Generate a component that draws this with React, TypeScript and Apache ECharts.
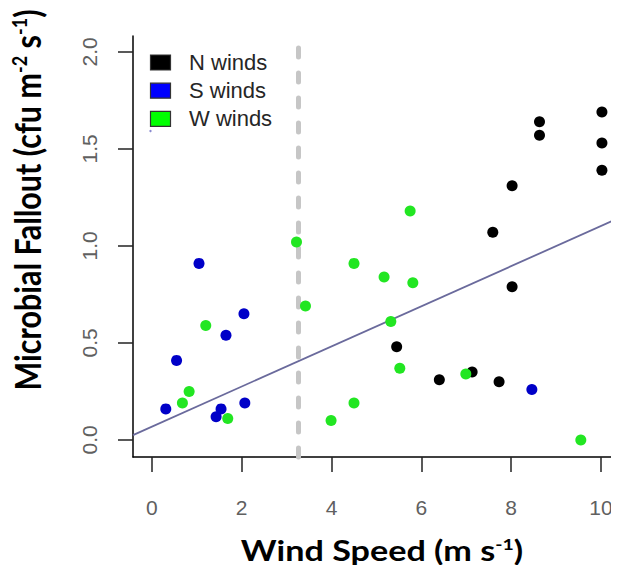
import React, { useEffect, useRef } from "react";
import * as echarts from "echarts";

// N winds
const nX = [5.45, 6.4, 7.13, 7.73, 7.59, 8.02, 8.02, 8.63, 8.63, 10.02, 10.02, 10.02];
const nY = [0.48, 0.31, 0.35, 0.3, 1.07, 1.31, 0.79, 1.64, 1.57, 1.69, 1.53, 1.39];
// S winds
const sX = [1.05, 2.05, 1.65, 0.55, 0.31, 1.54, 1.43, 2.07, 8.46];
const sY = [0.91, 0.65, 0.54, 0.41, 0.16, 0.16, 0.12, 0.19, 0.26];
// W winds
const wX = [3.22, 3.42, 1.2, 0.83, 0.68, 1.69, 5.75, 4.5, 5.17, 5.81, 5.32, 5.52, 6.99, 4.5, 3.99, 9.55];
const wY = [1.02, 0.69, 0.59, 0.25, 0.19, 0.11, 1.18, 0.91, 0.84, 0.81, 0.61, 0.37, 0.34, 0.19, 0.1, 0.0];

// regression line end points
const fitX = [-0.42, 10.4];
const fitY = [0.025, 1.144];

// threshold (dashed line)
const threshold = 3.27;

const xTicks = [0, 2, 4, 6, 8, 10];
const yTicks = [0, 0.5, 1, 1.5, 2];

const legendNames = ["N winds", "S winds", "W winds"];
const legendColors = ["#000000", "#0000ff", "#00ff00"];
const pointColors = ["#000000", "#0000c8", "#22e622"];

const zip = (a: number[], b: number[]) => a.map((v, i) => [v, b[i]]);

export default function App() {
  const ref = useRef<HTMLDivElement>(null);
  useEffect(() => {
    if (!ref.current) return;
    const chart = echarts.init(ref.current, null, { renderer: "svg" });
    const tickFont = { fontSize: 21, color: "#606060", fontFamily: "Liberation Sans" };
    const titleRich = (size: number) => ({
      b: { fontSize: size, fontWeight: "bold", fontFamily: "Lato", color: "#000" },
      s: {
        fontSize: Math.round(size * 0.58),
        fontWeight: "bold",
        fontFamily: "Lato",
        color: "#000",
        verticalAlign: "top",
      },
    });
    const graphics: any[] = [];
    legendNames.forEach((n, i) => {
      const cy = 62.5 + i * 28.2;
      graphics.push({
        type: "rect",
        shape: { x: 150.5, y: cy - 7.5, width: 20, height: 15 },
        style: { fill: legendColors[i], stroke: "#333", lineWidth: 1.2 },
      });
      graphics.push({
        type: "text",
        style: {
          text: n,
          x: 189,
          y: cy,
          verticalAlign: "middle",
          align: "left",
          fontSize: 22,
          fontFamily: "Liberation Sans",
          fill: "#262626",
        },
      });
    });
    graphics.push({
      type: "circle",
      shape: { cx: 150.5, cy: 131, r: 1.2 },
      style: { fill: "#8a8ad0" },
    });
    graphics.push({
      type: "text",
      x: 382,
      y: 550,
      scaleX: 1.22,
      style: {
        text: "{b|Wind Speed (m s}{s|-1}{b|)}",
        rich: titleRich(28),
        x: 0,
        y: 0,
        align: "center",
        verticalAlign: "middle",
      },
    });
    graphics.push({
      type: "text",
      x: 27,
      y: 200,
      rotation: Math.PI / 2,
      scaleY: 1.18,
      style: {
        text: "{b|Microbial Fallout (cfu m}{s|-2}{b| s}{s|-1}{b|)}",
        rich: titleRich(30.5),
        x: 0,
        y: 0,
        align: "center",
        verticalAlign: "middle",
      },
    });

    const scatter = (name: string, xs: number[], ys: number[], color: string) => ({
      name,
      type: "scatter",
      data: zip(xs, ys),
      symbol: "circle",
      symbolSize: 11,
      itemStyle: { color, opacity: 1 },
      z: 5,
    });

    chart.setOption({
      animation: false,
      grid: { left: 133, right: 0, top: 36, bottom: 116 },
      xAxis: {
        type: "value",
        min: -0.42,
        max: 10.4,
        axisLine: { show: true, onZero: false, lineStyle: { color: "#000", width: 1.5 } },
        axisTick: { show: true, length: 15, customValues: xTicks, lineStyle: { color: "#222", width: 1.5 } },
        axisLabel: { customValues: xTicks, margin: 40, ...tickFont },
        splitLine: { show: false },
      },
      yAxis: {
        type: "value",
        min: -0.088,
        max: 2.082,
        axisLine: { show: true, onZero: false, lineStyle: { color: "#000", width: 1.5 } },
        axisTick: { show: true, length: 15, customValues: yTicks, lineStyle: { color: "#222", width: 1.5 } },
        axisLabel: {
          customValues: yTicks,
          rotate: 90,
          margin: 33,
          formatter: (v: number) => v.toFixed(1),
          ...tickFont,
        },
        splitLine: { show: false },
      },
      graphic: graphics,
      series: [
        {
          type: "line",
          data: zip(fitX, fitY),
          symbol: "none",
          lineStyle: { color: "#6a6a9c", width: 1.8 },
          z: 3,
          markLine: {
            silent: true,
            symbol: "none",
            label: { show: false },
            lineStyle: { color: "#c6c6c6", width: 5, type: [9, 16], cap: "round" },
            data: [{ xAxis: threshold }],
          },
        },
        scatter(legendNames[0], nX, nY, pointColors[0]),
        scatter(legendNames[1], sX, sY, pointColors[1]),
        scatter(legendNames[2], wX, wY, pointColors[2]),
      ],
    });
    return () => chart.dispose();
  }, []);
  return <div ref={ref} style={{ width: 619, height: 573, margin: -8 }} />;
}
